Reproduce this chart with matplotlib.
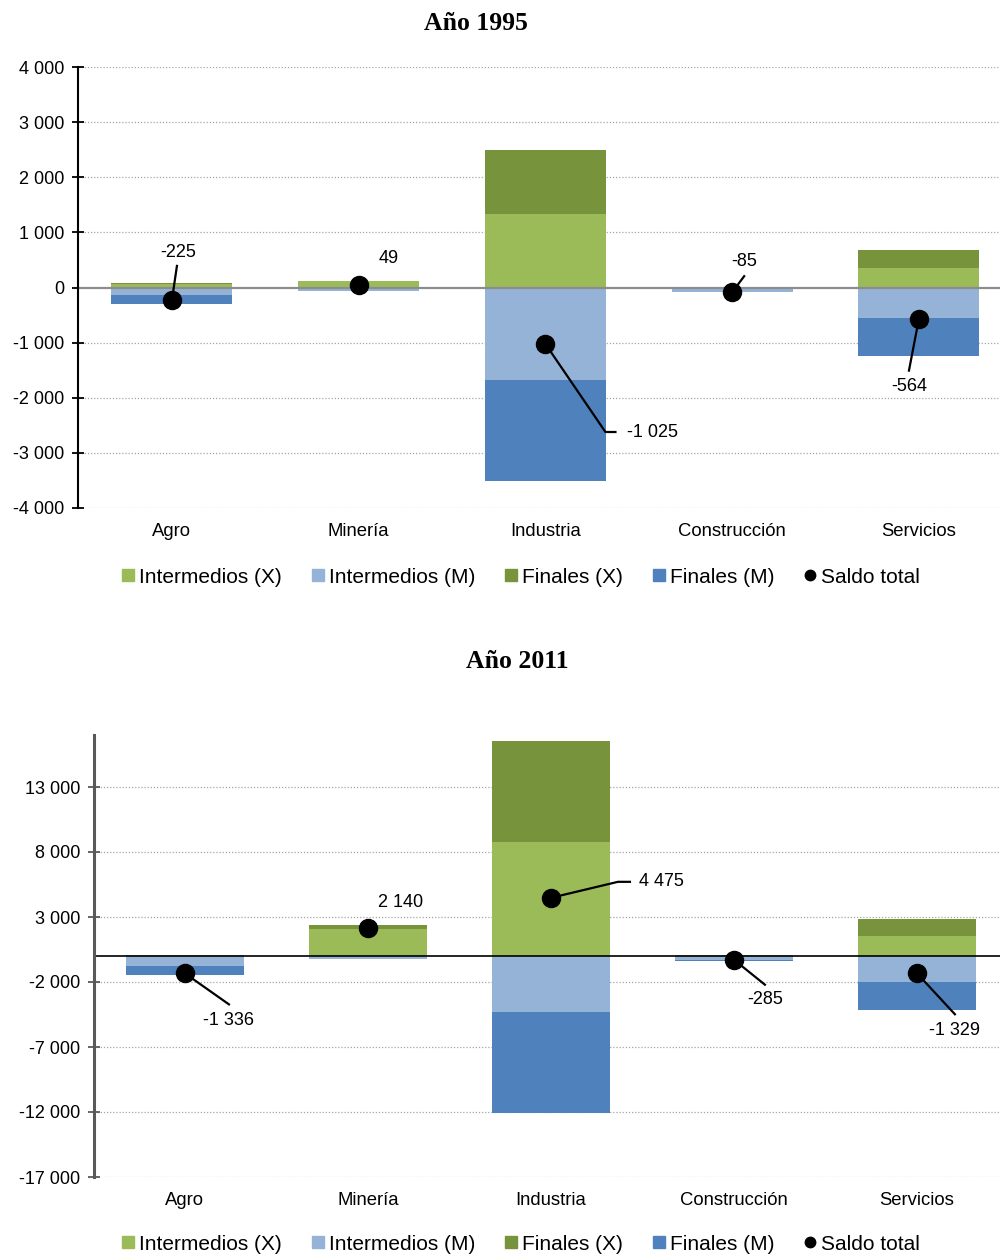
import numpy as np
import matplotlib
matplotlib.use("Agg")
import matplotlib.pyplot as plt
from matplotlib.lines import Line2D
from matplotlib.transforms import IdentityTransform

plt.rcParams['font.family'] = ['Liberation Sans', 'DejaVu Sans']

# ---------------- data ----------------
categories = ['Agro', 'Minería', 'Industria', 'Construcción', 'Servicios']

int_x_95 = [60, 110, 1330, 5, 350]
fin_x_95 = [20, 10, 1160, 0, 330]
int_m_95 = [-135, -65, -1670, -80, -560]
fin_m_95 = [-170, -6, -1845, -10, -684]
saldo_95 = [-225, 49, -1025, -85, -564]

int_x_11 = [60, 2050, 8750, 60, 1560]
fin_x_11 = [30, 320, 7800, 15, 1260]
int_m_11 = [-790, -200, -4300, -340, -1990]
fin_m_11 = [-636, -30, -7775, -20, -2159]
saldo_11 = [-1336, 2140, 4475, -285, -1329]

yticks_95 = [-4000, -3000, -2000, -1000, 0, 1000, 2000, 3000, 4000]
yticks_11 = [-17000, -12000, -7000, -2000, 3000, 8000, 13000]

series_names = ['Intermedios (X)', 'Intermedios (M)', 'Finales (X)', 'Finales (M)', 'Saldo total']
c_int_x = '#9BBB59'
c_fin_x = '#77933C'
c_int_m = '#95B3D7'
c_fin_m = '#4F81BD'

# label layout (pixel offsets from the dot): label offset, leader vertices, ha
lay_95 = [
    ((6, 47), [(5, 34)], 'center'),
    ((30, 26), [], 'center'),
    ((82, -88), [(60, -88), (70, -88)], 'left'),
    ((12, 31), [(12, 16)], 'center'),
    ((-10, -68), [(-10, -52)], 'center'),
]
lay_11 = [
    ((44, -47), [(44, -31)], 'center'),
    ((33, 26), [], 'center'),
    ((88, 16), [(67, 16), (79, 16)], 'left'),
    ((31, -40), [(31, -25)], 'center'),
    ((38, -57), [(38, -41)], 'center'),
]


def fmt(v):
    return f"{int(v):,}".replace(',', ' ')


W, H = 1000, 1255
fig = plt.figure(figsize=(W / 100, H / 100), dpi=100)

ax1 = fig.add_axes([78 / W, 1 - 508 / H, (W - 78) / W, 441 / H])
ax2 = fig.add_axes([94 / W, 1 - 1177 / H, (W - 94) / W, 442 / H])


def draw(ax, ix, fx, im, fm, saldo, yticks, ylim, xlim, width, lay,
         spine_color, spine_lw, zero_color, zero_lw):
    x = np.arange(len(categories))
    ix = np.array(ix, float); fx = np.array(fx, float)
    im = np.array(im, float); fm = np.array(fm, float)
    ax.bar(x, ix, width, color=c_int_x, zorder=2)
    ax.bar(x, fx, width, bottom=ix, color=c_fin_x, zorder=2)
    ax.bar(x, im, width, color=c_int_m, zorder=2)
    ax.bar(x, fm, width, bottom=im, color=c_fin_m, zorder=2)
    ax.set_xlim(*xlim)
    ax.set_ylim(*ylim)
    ax.set_yticks(yticks)
    ax.set_yticklabels([fmt(v) for v in yticks], fontsize=13)
    ax.set_xticks(x)
    ax.set_xticklabels(categories, fontsize=13.3)
    ax.tick_params(axis='x', length=0, pad=11)
    ax.tick_params(axis='y', direction='inout', length=8, width=1.3,
                   color=spine_color, pad=6)
    for s in ['top', 'right', 'bottom']:
        ax.spines[s].set_visible(False)
    ax.spines['left'].set_color(spine_color)
    ax.spines['left'].set_linewidth(spine_lw)
    ax.spines['left'].set_zorder(4)
    for t in yticks:
        if t != 0:
            ax.axhline(t, color='#A6A6A6', lw=0.9, ls=(0, (1, 1.5)), zorder=1)
    ax.axhline(0, color=zero_color, lw=zero_lw, zorder=3)
    ax.plot(x, saldo, 'o', color='black', markersize=13, zorder=6, linestyle='none')

    fig.canvas.draw()
    for i, s in enumerate(saldo):
        (lx, ly), verts, ha = lay[i]
        base = ax.transData.transform((x[i], s))
        if verts:
            pts = [base] + [base + np.array(v) for v in verts]
            xs, ys = zip(*pts)
            fig.add_artist(Line2D(xs, ys, transform=IdentityTransform(),
                                  color='black', lw=1.6, zorder=5))
        ax.annotate(fmt(s), xy=(x[i], s), xytext=(lx, ly), textcoords='offset pixels',
                    ha=ha, va='center', fontsize=13, zorder=7)


draw(ax1, int_x_95, fin_x_95, int_m_95, fin_m_95, saldo_95, yticks_95,
     (-4000, 4000), (-0.503, 4.434), 0.648, lay_95,
     'black', 1.5, '#8C8C8C', 1.6)
draw(ax2, int_x_11, fin_x_11, int_m_11, fin_m_11, saldo_11, yticks_11,
     (-17000, 17000), (-0.497, 4.454), 0.645, lay_11,
     '#595959', 2.2, 'black', 1.2)

fig.text(476 / W, 1 - 23 / H, 'Año 1995', ha='center', va='center',
         fontsize=18.5, fontweight='bold', family=['Liberation Serif', 'DejaVu Serif'])
fig.text(517 / W, 1 - 661 / H, 'Año 2011', ha='center', va='center',
         fontsize=18.5, fontweight='bold', family=['Liberation Serif', 'DejaVu Serif'])


def legend_handles():
    hs = []
    for c in [c_int_x, c_int_m, c_fin_x, c_fin_m]:
        hs.append(Line2D([], [], marker='s', color=c, markersize=8, linestyle='none'))
    hs.append(Line2D([], [], marker='o', color='black', markersize=7.5, linestyle='none'))
    return hs


for yc in [577, 1244]:
    fig.legend(legend_handles(), series_names, loc='center',
               bbox_to_anchor=(521 / W, 1 - yc / H), ncol=5, frameon=False,
               fontsize=15, handlelength=0.6, handletextpad=0.25,
               columnspacing=1.4, borderpad=0, borderaxespad=0)

fig.savefig('out.png', dpi=100)
